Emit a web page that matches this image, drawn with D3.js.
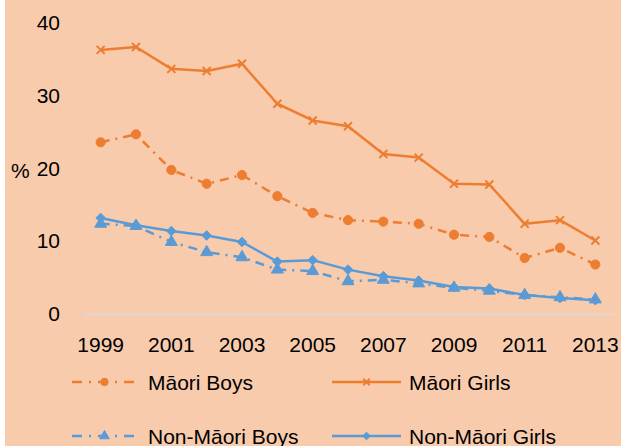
<!DOCTYPE html>
<html>
<head>
<meta charset="utf-8">
<script src="https://cdn.jsdelivr.net/npm/d3@7"></script>
<style>
  html, body { margin: 0; padding: 0; background: #ffffff; }
  svg { display: block; }
  text { font-family: "Liberation Sans", Arial, sans-serif; fill: #000; }
</style>
</head>
<body>
<svg id="chart" width="621" height="446"></svg>
<script>
const years = [1999,2000,2001,2002,2003,2004,2005,2006,2007,2008,2009,2010,2011,2012,2013];
const yTicks = [0,10,20,30,40];
const maoriBoys    = [23.6,24.7,19.8,17.9,19.1,16.2,13.9,12.9,12.7,12.4,10.9,10.6,7.7,9.1,6.8];
const maoriGirls   = [36.3,36.7,33.7,33.4,34.4,28.9,26.6,25.8,22.0,21.5,17.9,17.8,12.4,12.9,10.1];
const nonMaoriBoys = [12.4,12.1,9.9,8.5,7.8,6.1,5.9,4.5,4.7,4.2,3.6,3.2,2.6,2.3,2.0];
const nonMaoriGirls= [13.2,12.2,11.4,10.8,9.9,7.2,7.4,6.1,5.2,4.6,3.7,3.5,2.6,2.2,1.9];
const seriesNames = ["Māori Boys","Māori Girls","Non-Māori Boys","Non-Māori Girls"];

const ORANGE = "#ED7D31", BLUE = "#5B9BD5";
const series = [
  {name: seriesNames[0], values: maoriBoys, color: ORANGE, dash: "9,6,2,6", marker: "circle"},
  {name: seriesNames[1], values: maoriGirls, color: ORANGE, dash: null, marker: "x"},
  {name: seriesNames[2], values: nonMaoriBoys, color: BLUE, dash: "9,6,2,6", marker: "triangle"},
  {name: seriesNames[3], values: nonMaoriGirls, color: BLUE, dash: null, marker: "diamond"}
];

const svg = d3.select("#chart");
svg.append("rect").attr("x", 5).attr("y", 0).attr("width", 616).attr("height", 446).attr("fill", "#F8CBAD");

const x = d3.scaleBand().domain(years).range([83, 613]).padding(0);
const cx = d => x(d) + x.bandwidth() / 2;
const y = d3.scaleLinear().domain([0, 40]).range([314, 23]);

// Y axis (labels only)
const yAxis = svg.append("g").attr("transform", "translate(83,0)")
  .call(d3.axisLeft(y).tickValues(yTicks).tickSize(0).tickPadding(23).tickFormat(d3.format("d")));
yAxis.select(".domain").remove();
yAxis.selectAll("text").style("font-size", "21px").style("font-family", "Liberation Sans, Arial, sans-serif").attr("fill", "#000");

// X axis
const xAxis = svg.append("g").attr("transform", "translate(0,314)")
  .call(d3.axisBottom(x).tickSize(0).tickSizeOuter(0).tickPadding(23)
    .tickFormat(d => (d % 2 === 1 ? String(d) : "")));
xAxis.select(".domain").attr("stroke", "#D9D9D9").attr("stroke-width", 1.5);
xAxis.selectAll("text").style("font-size", "21px").style("font-family", "Liberation Sans, Arial, sans-serif").attr("fill", "#000");

// % label
svg.append("text").attr("x", 11).attr("y", 177.5).style("font-size", "21px").text("%");

function markerPath(type, k) {
  switch (type) {
    case "circle": return d3.symbol().type(d3.symbolCircle).size(66 * k * k)();
    case "triangle": return d3.symbol().type(d3.symbolTriangle).size(62 * k * k)();
    case "diamond": { const r = 4.8 * k; return `M0,${-r}L${r},0L0,${r}L${-r},0Z`; }
    case "x": { const r = 4 * k; return `M${-r},${-r}L${r},${r}M${-r},${r}L${r},${-r}`; }
  }
}
function drawMarker(g, type, color, px, py, k) {
  const p = g.append("path").attr("d", markerPath(type, k)).attr("transform", `translate(${px},${py})`);
  if (type === "x") p.attr("fill", "none").attr("stroke", color).attr("stroke-width", 2);
  else p.attr("fill", color).attr("stroke", color).attr("stroke-width", 1);
}

const line = d3.line().x((d, i) => cx(years[i])).y(d => y(d));

series.forEach(s => {
  const g = svg.append("g");
  const path = g.append("path").datum(s.values).attr("d", line)
    .attr("fill", "none").attr("stroke", s.color).attr("stroke-width", 2.5)
    .attr("stroke-linejoin", "round");
  if (s.dash) path.attr("stroke-dasharray", s.dash);
  s.values.forEach((v, i) => drawMarker(g, s.marker, s.color, cx(years[i]), y(v), 1));
});

// Legend
const legendPos = [
  {lx: 72, tx: 148, ly: 382, ty: 389.5},
  {lx: 332, tx: 409, ly: 382, ty: 389.5},
  {lx: 72, tx: 148, ly: 436, ty: 443.5},
  {lx: 332, tx: 409, ly: 436, ty: 443.5}
];
series.forEach((s, i) => {
  const p = legendPos[i];
  const g = svg.append("g");
  const w = s.dash ? 65 : 69;
  const l = g.append("line").attr("x1", p.lx).attr("x2", p.lx + w).attr("y1", p.ly).attr("y2", p.ly)
    .attr("stroke", s.color).attr("stroke-width", 2.5);
  if (s.dash) l.attr("stroke-dasharray", "10,7,2,7");
  drawMarker(g, s.marker, s.color, p.lx + w / 2, p.ly, 0.8);
  g.append("text").attr("x", p.tx).attr("y", p.ty).style("font-size", "21px").text(s.name);
});
</script>
</body>
</html>
